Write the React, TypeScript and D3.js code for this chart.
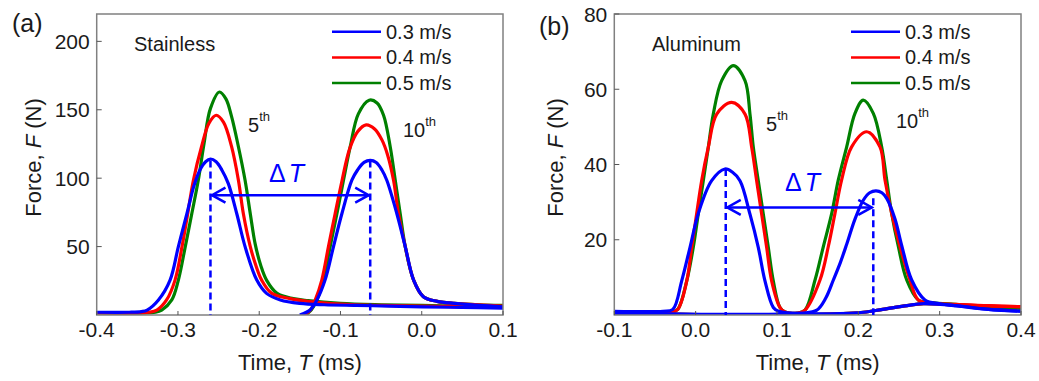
import React from "react";
import * as d3 from "d3";

type Pt = [number, number];

// ---------- Panel (a): Stainless ----------
const stainless03_5th: Pt[] = [[-0.40,2],[-0.36,2],[-0.345,2.5],[-0.338,3.6],[-0.324,11],[-0.3097,25.5],[-0.2995,50],[-0.289,74],[-0.280,95],[-0.272,107],[-0.266,112],[-0.260,114],[-0.253,112],[-0.246,106],[-0.238,96],[-0.2276,74],[-0.2174,50],[-0.203,25.5],[-0.191,15.8],[-0.174,11],[-0.150,8.5],[-0.12,7.5],[-0.08,7],[-0.04,6.5],[0.0,6],[0.05,5.5],[0.1,5]];
const stainless04_5th: Pt[] = [[-0.40,1.5],[-0.35,1.5],[-0.336,2],[-0.326,3.6],[-0.314,11],[-0.3036,25.5],[-0.295,50],[-0.288,74],[-0.281,98.5],[-0.271,123],[-0.262,140],[-0.253,146],[-0.244,141],[-0.234,123],[-0.2256,98.5],[-0.2195,74],[-0.211,50],[-0.204,36],[-0.197,25.5],[-0.1845,15.8],[-0.162,12],[-0.14,10],[-0.1,8],[-0.05,7],[0,6.5],[0.05,6],[0.1,5.5]];
const stainless05_5th: Pt[] = [[-0.40,1.5],[-0.34,1.5],[-0.328,2],[-0.320,3.6],[-0.3076,11],[-0.2995,25.5],[-0.291,50],[-0.283,74],[-0.275,98.5],[-0.268,125],[-0.260,151],[-0.249,163],[-0.241,158],[-0.234,145],[-0.2256,123],[-0.2174,98.5],[-0.211,74],[-0.205,52],[-0.198,36],[-0.191,25.5],[-0.178,15.8],[-0.158,12],[-0.14,10.5],[-0.1,8.5],[-0.05,7.5],[0,7],[0.05,6.5],[0.1,6]];
const stainless03_10th: Pt[] = [[-0.150,0],[-0.142,2],[-0.137,4],[-0.129,11],[-0.119,25.5],[-0.1086,50],[-0.0983,74],[-0.086,98.5],[-0.079,106],[-0.071,111.5],[-0.0634,113],[-0.056,111.5],[-0.049,106],[-0.043,98.5],[-0.0306,74],[-0.0203,50],[-0.010,25.5],[0.002,13.4],[0.019,10],[0.04,8.5],[0.07,7],[0.1,6]];
const stainless04_10th: Pt[] = [[-0.145,0],[-0.137,3.6],[-0.131,11],[-0.123,25.5],[-0.1148,50],[-0.1066,74],[-0.098,98.5],[-0.089,121],[-0.079,134],[-0.0684,139],[-0.058,136],[-0.049,128],[-0.042,117],[-0.0347,98.5],[-0.0286,74],[-0.0203,50],[-0.010,25.5],[0.002,13.4],[0.019,10],[0.04,8.5],[0.07,7.5],[0.1,6.5]];
const stainless05_10th: Pt[] = [[-0.143,0],[-0.136,3.6],[-0.129,11],[-0.121,25.5],[-0.1127,50],[-0.1044,74],[-0.0963,98.5],[-0.088,123],[-0.078,147],[-0.0647,157],[-0.055,155],[-0.047,146],[-0.0388,123],[-0.0326,98.5],[-0.0265,74],[-0.0203,50],[-0.010,25.5],[0.002,13.4],[0.019,10],[0.04,8.5],[0.07,7.5],[0.1,7]];

// ---------- Panel (b): Aluminum ----------
const aluminum03_5th: Pt[] = [[-0.1,1],[-0.04,1],[-0.028,1.5],[-0.0172,9],[-0.0069,18],[0.0033,27],[0.0197,35.7],[0.036,38.8],[0.045,38],[0.0545,35.7],[0.0668,26.8],[0.077,18],[0.0853,9],[0.0955,2],[0.102,1],[0.2,0.6],[0.23,1.5],[0.26,2.5],[0.28,3],[0.32,2.5],[0.36,1.5],[0.4,1]];
const aluminum04_5th: Pt[] = [[-0.1,0.8],[-0.03,0.8],[-0.022,1.5],[-0.011,9],[-0.0048,18],[0.0013,27],[0.0074,35.7],[0.0156,44.6],[0.0259,53.4],[0.0443,56.5],[0.0607,53.4],[0.0689,44.6],[0.075,35.7],[0.0812,26.8],[0.0873,18],[0.0935,9],[0.1037,2],[0.11,0.8],[0.2,0.6],[0.23,1.5],[0.26,2.5],[0.28,3],[0.32,2.7],[0.36,2.4],[0.4,2.2]];
const aluminum05_5th: Pt[] = [[-0.1,0.8],[-0.03,0.8],[-0.022,1.5],[-0.011,9],[-0.0029,18],[0.0033,27],[0.0094,35.7],[0.0156,44.6],[0.0217,53.4],[0.032,62.3],[0.0463,66.3],[0.0607,62.3],[0.0668,53.4],[0.0709,44.6],[0.077,35.7],[0.0832,26.8],[0.0893,18],[0.0955,9],[0.1037,2],[0.11,0.8],[0.2,0.6],[0.23,1.5],[0.26,2.5],[0.28,3],[0.32,2.7],[0.36,2.2],[0.4,1.8]];
const aluminum03_10th: Pt[] = [[-0.1,0.5],[0.13,0.5],[0.149,1.3],[0.160,4.5],[0.1693,9.3],[0.178,14],[0.1857,18.8],[0.1959,25.5],[0.2061,30.5],[0.214,32.5],[0.2217,33],[0.229,32.5],[0.2349,31],[0.2451,25.5],[0.2533,18.5],[0.2656,9.3],[0.282,4],[0.30,3],[0.33,2.2],[0.36,1.5],[0.4,1]];
const aluminum04_10th: Pt[] = [[-0.1,0.5],[0.125,0.5],[0.1345,1.3],[0.1529,9.3],[0.1631,18.2],[0.1713,27],[0.1795,35.9],[0.1918,44.7],[0.2103,48.7],[0.2266,44.7],[0.2328,35.9],[0.241,27],[0.2512,18.2],[0.2635,9.3],[0.2737,4],[0.29,3.2],[0.32,2.8],[0.36,2.5],[0.4,2.2]];
const aluminum05_10th: Pt[] = [[-0.1,0.5],[0.125,0.5],[0.1345,1.3],[0.1468,9.3],[0.157,18.2],[0.1673,27],[0.1754,35.9],[0.1857,44.7],[0.1959,53.6],[0.2061,57.1],[0.2184,53.6],[0.2287,44.7],[0.2349,35.9],[0.241,27],[0.2492,18.2],[0.2595,9.3],[0.2737,4],[0.29,3.3],[0.32,2.8],[0.36,2.2],[0.4,1.8]];

// ---------- Axes / labels ----------
const seriesLabels = ["0.3 m/s", "0.4 m/s", "0.5 m/s"];
const seriesColors = ["#0000ff", "#ff0000", "#008000"];
const xTicksA = [-0.4, -0.3, -0.2, -0.1, 0.0, 0.1];
const xTickLabelsA = ["-0.4", "-0.3", "-0.2", "-0.1", "0.0", "0.1"];
const yTicksA = [50, 100, 150, 200];
const xTicksB = [-0.1, 0.0, 0.1, 0.2, 0.3, 0.4];
const xTickLabelsB = ["-0.1", "0.0", "0.1", "0.2", "0.3", "0.4"];
const yTicksB = [20, 40, 60, 80];
// delta-T markers: peak times of 5th / 10th impact, arrow level, dashed tops
const deltaA = { t5: -0.26, t10: -0.0634, level: 87.6, top5: 113, top10: 113 };
const deltaB = { t5: 0.037, t10: 0.2184, level: 28.6, top5: 38.8, top10: 31 };

const FONT = "Arial, 'Liberation Sans', sans-serif";
const TXT = "#1a1a1a";

interface PanelProps {
  id: string;
  left: number; right: number; top: number; bottom: number;
  xDomain: [number, number]; yDomain: [number, number];
  xTicks: number[]; xTickLabels: string[]; yTicks: number[];
  traces5: Pt[][]; traces10: Pt[][];
  delta: { t5: number; t10: number; level: number; top5: number; top10: number };
  letter: string; letterX: number; letterY: number;
  material: string; materialX: number;
  legendX: number;
  yTitleX: number;
  ann5: [number, number]; ann10: [number, number];
  dtX: number; dtY: number;
}

function Panel(p: PanelProps) {
  const x = d3.scaleLinear().domain(p.xDomain).range([p.left, p.right]);
  const y = d3.scaleLinear().domain(p.yDomain).range([p.bottom, p.top]);
  const line = d3.line<Pt>().x(d => x(d[0])).y(d => y(d[1])).curve(d3.curveCatmullRom.alpha(0.5));
  const order = [2, 1, 0];
  const cx = (p.left + p.right) / 2;
  const ax5 = x(p.delta.t5), ax10 = x(p.delta.t10), ay = y(p.delta.level);
  const head = 15, hh = 7.5;
  return (
    <g>
      <defs>
        <clipPath id={`clip-${p.id}`}>
          <rect x={p.left} y={p.top} width={p.right - p.left} height={p.bottom - p.top} />
        </clipPath>
      </defs>
      <g clipPath={`url(#clip-${p.id})`}>
        {order.map(i => (
          <g key={i}>
            <path d={line(p.traces5[i]) || ""} fill="none" stroke={seriesColors[i]} strokeWidth={3.2} strokeLinejoin="round" />
            <path d={line(p.traces10[i]) || ""} fill="none" stroke={seriesColors[i]} strokeWidth={3.2} strokeLinejoin="round" />
          </g>
        ))}
      </g>
      <rect x={p.left} y={p.top} width={p.right - p.left} height={p.bottom - p.top} fill="none" stroke="#808080" strokeWidth={1.5} />
      {p.xTicks.map((t, i) => (
        <g key={"xt" + i}>
          <line x1={x(t)} x2={x(t)} y1={p.bottom} y2={p.bottom - 4} stroke="#555" strokeWidth={1} />
          <text x={x(t)} y={p.bottom + 22} textAnchor="middle" fontSize={21} fontFamily={FONT} fill={TXT}>{p.xTickLabels[i]}</text>
        </g>
      ))}
      {p.yTicks.map((t, i) => (
        <g key={"yt" + i}>
          <line x1={p.left} x2={p.left + 5} y1={y(t)} y2={y(t)} stroke="#555" strokeWidth={1} />
          <text x={p.left - 7} y={y(t) + 7.5} textAnchor="end" fontSize={21} fontFamily={FONT} fill={TXT}>{t}</text>
        </g>
      ))}
      <text x={cx} y={370} textAnchor="middle" fontSize={22} fontFamily={FONT} fill={TXT}>
        Time, <tspan fontStyle="italic">T</tspan> (ms)
      </text>
      <text transform={`translate(${p.yTitleX},${157.5}) rotate(-90)`} textAnchor="middle" fontSize={22} fontFamily={FONT} fill={TXT}>
        Force, <tspan fontStyle="italic">F</tspan> (N)
      </text>
      <text x={p.letterX} y={p.letterY} fontSize={25} fontFamily={FONT} fill={TXT}>{p.letter}</text>
      <text x={p.materialX} y={50.5} fontSize={20} fontFamily={FONT} fill={TXT}>{p.material}</text>
      {seriesLabels.map((s, i) => (
        <g key={"lg" + i}>
          <line x1={p.legendX} x2={p.legendX + 49} y1={31.7 + i * 25.7} y2={31.7 + i * 25.7} stroke={seriesColors[i]} strokeWidth={2.5} />
          <text x={p.legendX + 54} y={38.7 + i * 25.7} fontSize={20} fontFamily={FONT} fill={TXT}>{s}</text>
        </g>
      ))}
      <text x={p.ann5[0]} y={p.ann5[1]} fontSize={20} fontFamily={FONT} fill={TXT}>
        5<tspan fontSize={13} dy={-11}>th</tspan>
      </text>
      <text x={p.ann10[0]} y={p.ann10[1]} fontSize={20} fontFamily={FONT} fill={TXT}>
        10<tspan fontSize={13} dy={-11}>th</tspan>
      </text>
      <line x1={ax5} x2={ax5} y1={y(p.delta.top5)} y2={p.bottom} stroke="#0000ff" strokeWidth={2.5} strokeDasharray="7 4" />
      <line x1={ax10} x2={ax10} y1={y(p.delta.top10)} y2={p.bottom} stroke="#0000ff" strokeWidth={2.5} strokeDasharray="7 4" />
      <line x1={ax5 + 1} x2={ax10 - 1} y1={ay} y2={ay} stroke="#0000ff" strokeWidth={2.5} />
      <path d={`M${ax5 + head},${ay - hh}L${ax5 + 1.5},${ay}L${ax5 + head},${ay + hh}`} fill="none" stroke="#0000ff" strokeWidth={2.5} />
      <path d={`M${ax10 - head},${ay - hh}L${ax10 - 1.5},${ay}L${ax10 - head},${ay + hh}`} fill="none" stroke="#0000ff" strokeWidth={2.5} />
      <text x={p.dtX} y={p.dtY} fontSize={25} fontFamily={FONT} fill="#0000ff">
        Δ<tspan dx={3} fontStyle="italic">T</tspan>
      </text>
    </g>
  );
}

export default function App() {
  return (
    <svg width={1039} height={381} style={{ position: "absolute", left: 0, top: 0, background: "#fff" }}>
      <rect x={0} y={0} width={1039} height={381} fill="#fff" />
      <Panel
        id="a" left={96.7} right={503} top={14} bottom={315}
        xDomain={[-0.4, 0.1]} yDomain={[0, 220]}
        xTicks={xTicksA} xTickLabels={xTickLabelsA} yTicks={yTicksA}
        traces5={[stainless03_5th, stainless04_5th, stainless05_5th]}
        traces10={[stainless03_10th, stainless04_10th, stainless05_10th]}
        delta={deltaA}
        letter="(a)" letterX={12} letterY={31.5}
        material="Stainless" materialX={134}
        legendX={332}
        yTitleX={41}
        ann5={[248, 131.7]} ann10={[403, 136.7]}
        dtX={269} dtY={182}
      />
      <Panel
        id="b" left={614.3} right={1021} top={14} bottom={315}
        xDomain={[-0.1, 0.4]} yDomain={[0, 80]}
        xTicks={xTicksB} xTickLabels={xTickLabelsB} yTicks={yTicksB}
        traces5={[aluminum03_5th, aluminum04_5th, aluminum05_5th]}
        traces10={[aluminum03_10th, aluminum04_10th, aluminum05_10th]}
        delta={deltaB}
        letter="(b)" letterX={539} letterY={34.5}
        material="Aluminum" materialX={652}
        legendX={851}
        yTitleX={563}
        ann5={[766, 130.7]} ann10={[896, 128.3]}
        dtX={785} dtY={191}
      />
    </svg>
  );
}
